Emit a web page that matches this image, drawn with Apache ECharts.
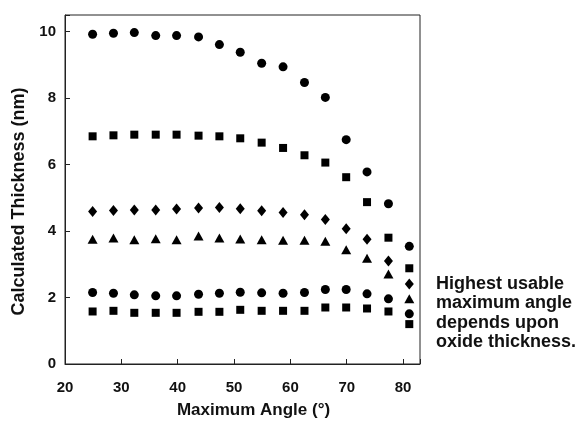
<!DOCTYPE html>
<html>
<head>
<meta charset="utf-8">
<script src="https://cdn.jsdelivr.net/npm/echarts@6/dist/echarts.min.js"></script>
<style>
  html, body { margin: 0; padding: 0; background: #fff; }
  #chart { width: 580px; height: 424px; }
</style>
</head>
<body>
<div id="chart"></div>
<script>
// maximum angle (deg) of each measurement
var angles = [24.9, 28.6, 32.3, 36.1, 39.8, 43.7, 47.4, 51.1, 54.9, 58.7, 62.5, 66.2, 69.9, 73.6, 77.4, 81.1];

// calculated thickness (nm), one array per sample
var circlesHigh = [9.92, 9.95, 9.97, 9.88, 9.88, 9.84, 9.61, 9.38, 9.05, 8.94, 8.47, 8.02, 6.75, 5.78, 4.82, 3.54];
var squaresHigh = [6.85, 6.88, 6.90, 6.90, 6.90, 6.87, 6.85, 6.79, 6.66, 6.50, 6.28, 6.06, 5.62, 4.87, 3.80, 2.88];
var diamonds    = [4.59, 4.62, 4.63, 4.63, 4.66, 4.69, 4.71, 4.67, 4.61, 4.56, 4.49, 4.35, 4.07, 3.75, 3.10, 2.41];
var triangles   = [3.75, 3.79, 3.74, 3.77, 3.74, 3.85, 3.79, 3.76, 3.74, 3.72, 3.72, 3.69, 3.44, 3.18, 2.71, 1.96];
var circlesLow  = [2.15, 2.13, 2.08, 2.05, 2.05, 2.10, 2.13, 2.16, 2.14, 2.13, 2.15, 2.24, 2.24, 2.11, 1.96, 1.51];
var squaresLow  = [1.58, 1.60, 1.54, 1.54, 1.54, 1.57, 1.57, 1.63, 1.60, 1.60, 1.60, 1.70, 1.70, 1.67, 1.58, 1.20];

var noteLines = ['Highest usable', 'maximum angle', 'depends upon', 'oxide thickness.'];

function pairs(vals) {
  return angles.map(function (a, i) { return [a, vals[i]]; });
}

var font = 'Liberation Sans, Arial, sans-serif';
var axisColor = '#222';

var sets = [
  { name: 'circlesHigh', data: circlesHigh, symbol: 'circle', size: 9 },
  { name: 'squaresHigh', data: squaresHigh, symbol: 'rect', size: 8 },
  { name: 'diamonds', data: diamonds, symbol: 'diamond', size: [9, 11] },
  { name: 'triangles', data: triangles, symbol: 'triangle', size: [10, 9] },
  { name: 'squaresLow', data: squaresLow, symbol: 'rect', size: 8 },
  { name: 'circlesLow', data: circlesLow, symbol: 'circle', size: 9 }
];

var myChart = echarts.init(document.getElementById('chart'));

var options = {
  animation: false,
  grid: {
    left: 65,
    right: 160,
    top: 15,
    bottom: 60,
    show: true,
    borderColor: axisColor,
    borderWidth: 1
  },
  xAxis: {
    type: 'value',
    min: 20,
    max: 83,
    interval: 10,
    name: 'Maximum Angle (°)',
    nameLocation: 'middle',
    nameGap: 38,
    nameTextStyle: {
      color: '#111', fontFamily: font, fontWeight: 'bold', fontSize: 17,
      padding: [0, 0, 0, 22]   // name sits a bit right of the axis middle
    },
    axisLine: { show: true, lineStyle: { color: axisColor, width: 1 } },
    axisTick: { show: true, inside: true, length: 5, lineStyle: { color: axisColor } },
    splitLine: { show: false },
    axisLabel: {
      color: '#111', fontFamily: font, fontWeight: 'bold', fontSize: 15, margin: 16,
      formatter: function (v) { return v % 10 === 0 ? v : ''; }
    }
  },
  yAxis: {
    type: 'value',
    min: 0,
    max: 10.5,
    interval: 2,
    name: 'Calculated Thickness (nm)',
    nameLocation: 'middle',
    nameGap: 34,
    nameTextStyle: {
      color: '#111', fontFamily: font, fontWeight: 'bold', fontSize: 18,
      padding: [0, 24, 0, 0]   // pushes it down a little
    },
    axisLine: { show: true, lineStyle: { color: axisColor, width: 1 } },
    axisTick: { show: true, inside: true, length: 5, lineStyle: { color: axisColor } },
    splitLine: { show: false },
    axisLabel: {
      color: '#111', fontFamily: font, fontWeight: 'bold', fontSize: 15, margin: 9,
      formatter: function (v) { return v % 2 === 0 ? v : ''; }
    }
  },
  graphic: [{
    type: 'text',
    left: 436,
    top: 274,
    style: {
      text: noteLines.join('\n'),
      fill: '#111',
      font: 'bold 18px ' + font,
      lineHeight: 19.5
    }
  }],
  series: []
};

sets.forEach(function (s) {
  options.series.push({
    name: s.name,
    type: 'scatter',
    data: pairs(s.data),
    symbol: s.symbol,
    symbolSize: s.size,
    itemStyle: { color: '#000', opacity: 1 }
  });
});

myChart.setOption(options);
</script>
</body>
</html>
